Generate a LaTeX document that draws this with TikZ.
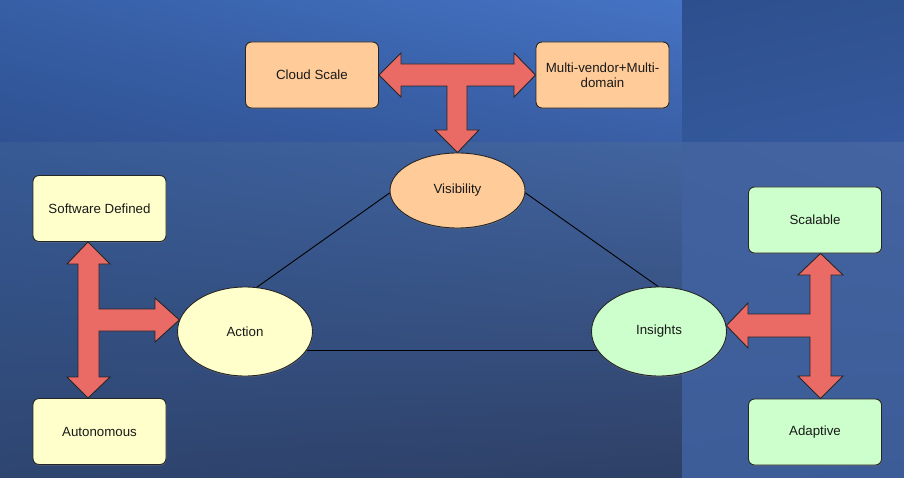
\documentclass[tikz,border=0pt]{standalone}
\usepackage{fontspec}
\setmainfont{Liberation Sans}
\usetikzlibrary{shapes.geometric,shadows,shadings}
\definecolor{peach}{HTML}{FFCC99}
\definecolor{cream}{HTML}{FFFFCC}
\definecolor{mint}{HTML}{CCFFCC}
\definecolor{salmon}{HTML}{EA6B66}
\definecolor{bgA1}{RGB}{54,95,166}
\definecolor{bgA2}{RGB}{69,115,196}
\definecolor{bgA3}{RGB}{47,82,146}
\definecolor{bgA4}{RGB}{58,95,166}
\definecolor{bgB1}{RGB}{46,79,142}
\definecolor{bgB2}{RGB}{47,82,144}
\definecolor{bgB3}{RGB}{50,87,152}
\definecolor{bgB4}{RGB}{54,89,159}
\definecolor{bgC1}{RGB}{55,90,149}
\definecolor{bgC2}{RGB}{66,100,159}
\definecolor{bgC3}{RGB}{46,69,112}
\definecolor{bgC4}{RGB}{46,64,102}
\definecolor{bgD1}{RGB}{65,98,159}
\definecolor{bgD2}{RGB}{67,100,160}
\definecolor{bgD3}{RGB}{61,93,153}
\definecolor{bgD4}{RGB}{60,92,152}

\begin{document}
\begin{tikzpicture}[x=1pt, y=-1pt, every node/.style={font=\fontsize{13.3}{15.5}\selectfont, text=black!90}, box/.style={draw=black!85, line width=0.9pt, rounded corners=6pt, minimum width=133pt, minimum height=66pt, drop shadow={shadow xshift=0.4pt, shadow yshift=-1.2pt, opacity=0.45}}, oval/.style={ellipse, draw=black!85, line width=0.9pt, minimum width=135pt, minimum height=89pt, inner sep=0pt, drop shadow={shadow xshift=0.4pt, shadow yshift=-1.2pt, opacity=0.45}}, bigarrow/.style={fill=salmon, draw=black!85, line width=0.9pt, line join=miter}]
	\useasboundingbox (0,0) rectangle (904,478);
	\shade[upper left=bgA1, upper right=bgA2, lower left=bgA3, lower right=bgA4] (0,0) rectangle (682,143);
	\shade[upper left=bgB1, upper right=bgB2, lower left=bgB3, lower right=bgB4] (682,0) rectangle (904,143);
	\shade[upper left=bgC1, upper right=bgC2, lower left=bgC3, lower right=bgC4] (0,143) rectangle (682,478);
	\shade[upper left=bgD1, upper right=bgD2, lower left=bgD3, lower right=bgD4] (682,143) rectangle (904,478);

	\node[box, fill=peach] (cloud) at (312,75) {Cloud Scale};
	\node[box, fill=peach, align=center] (multi) at (602.5,75) {Multi-vendor+Multi-\\domain};
	\node[oval, fill=peach, minimum height=75pt] (vis) at (457.5,190.5) {Visibility};
	\node[box, fill=cream] (soft) at (99.5,208.5) {Software Defined};
	\node[box, fill=cream] (autonom) at (99.5,431.5) {Autonomous};
	\node[oval, fill=cream] (act) at (245,331.5) {Action};
	\node[box, fill=mint] (scal) at (815,220) {Scalable};
	\node[box, fill=mint] (adapt) at (815,432) {Adaptive};
	\node[oval, fill=mint] (ins) at (659,331.5) {Insights};

	\draw[black, line width=0.9pt] (act.75) -- (vis.182);
	\draw[black, line width=0.9pt] (vis.-2) -- (ins.91);
	\draw[black, line width=0.9pt] (act.-17) -- (ins.197);

	\draw[bigarrow] (cloud.east) -- (401,53) -- (401,64) -- (514,64) -- (514,53) -- (multi.west) -- (514,97) -- (514,86) -- (467,86) -- (467,130) -- (479,130) -- (vis.north) -- (435,130) -- (447,130) -- (447,86) -- (401,86) -- (401,97) -- cycle;
	\draw[bigarrow] ([xshift=-11.5pt]soft.south) -- (110,264) -- (99,264) -- (99,309) -- (155,309) -- (155,298) -- (act.170) -- (155,342) -- (155,331) -- (99,331) -- (99,377) -- (110,377) -- ([xshift=-11.5pt]autonom.north) -- (67,377) -- (78,377) -- (78,264) -- (67,264) -- cycle;
	\draw[bigarrow] ([xshift=5.5pt]scal.south) -- (843,275) -- (831,275) -- (831,376) -- (843,376) -- ([xshift=5.5pt]adapt.north) -- (798,376) -- (810,376) -- (810,337) -- (748,337) -- (748,348) -- (ins.5) -- (748,303) -- (748,314) -- (810,314) -- (810,275) -- (798,275) -- cycle;
\end{tikzpicture}
\end{document}
